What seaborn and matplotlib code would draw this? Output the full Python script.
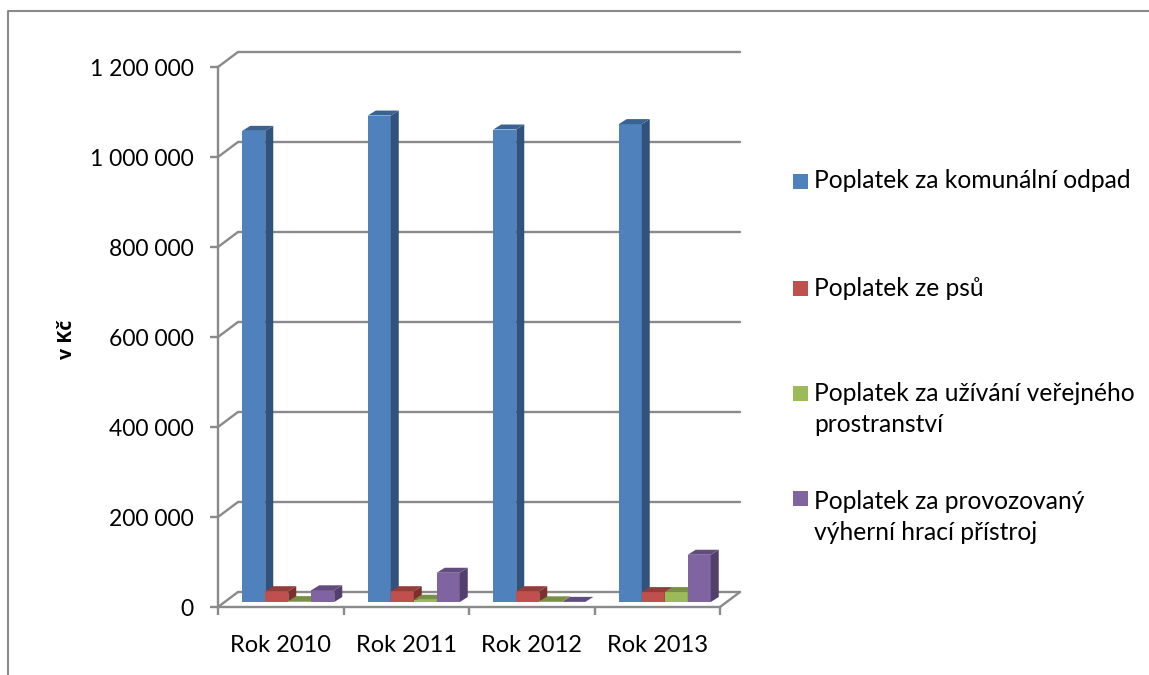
import matplotlib
matplotlib.use("Agg")
import matplotlib.pyplot as plt
from matplotlib.lines import Line2D
from matplotlib.patches import Polygon, Rectangle
import pandas as pd
import seaborn as sns

years = ["Rok 2010", "Rok 2011", "Rok 2012", "Rok 2013"]
series = [
    "Poplatek za komunální odpad",
    "Poplatek ze psů",
    "Poplatek za užívání veřejného\nprostranství",
    "Poplatek za provozovaný\nvýherní hrací přístroj",
]
odpad = [1047000, 1081000, 1050000, 1062000]
psi = [24000, 24000, 24000, 22000]
prostranstvi = [2000, 5000, 1500, 22000]
automaty = [26000, 65000, 300, 105000]
y_ticks = [0, 200000, 400000, 600000, 800000, 1000000, 1200000]
y_labels = ["0", "200 000", "400 000", "600 000", "800 000", "1 000 000", "1 200 000"]

front = ["#4F81BD", "#C0504D", "#9BBB59", "#8064A2"]
side = ["#30527C", "#7D2F2D", "#657B38", "#533F6B"]
top = ["#3A6391", "#943C3A", "#779044", "#624C7D"]
legend_text_y = [181, 288, 409, 517]
legend_box_y = [181, 288, 393, 498]

W, H = 1149, 675
GREY = "#8A8A8A"

sns.set_theme(style="white")
plt.rcParams["font.family"] = ["Lato", "DejaVu Sans"]

fig = plt.figure(figsize=(W / 100, H / 100), dpi=100)
ax = fig.add_axes([218 / W, 1 - 607 / H, 502 / W, 540 / H])

df = pd.DataFrame({
    "rok": years * 4,
    "serie": [s for s in series for _ in years],
    "hodnota": odpad + psi + prostranstvi + automaty,
})
sns.barplot(data=df, x="rok", y="hodnota", hue="serie", palette=front,
            width=0.733, gap=0, legend=False, saturation=1, linewidth=0, ax=ax)
ax.set_xlim(-0.5, 3.5)
ax.set_ylim(0, 1200000)

# pixels -> data units
px_x = 4 / 502
px_y = 1200000 / 540
wall_dx, wall_dy = 20 * px_x, 15 * px_y
bar_dx, bar_dy = 8 * px_x, 5 * px_y
shift_x, base_y = 7.5 * px_x, 5 * px_y

# back wall and floor
for v in y_ticks:
    ax.plot([-0.5, -0.5 + wall_dx], [v, v + wall_dy], color=GREY, lw=1.7, clip_on=False, zorder=1)
    ax.plot([-0.5 + wall_dx, 3.5 + wall_dx], [v + wall_dy] * 2, color=GREY, lw=1.7, clip_on=False, zorder=1)
ax.plot([3.5, 3.5 + wall_dx], [0, wall_dy], color=GREY, lw=1.7, clip_on=False, zorder=1)

# fake the 3d look on the seaborn bars
for i, p in enumerate(sorted(ax.patches, key=lambda b: b.get_x())):
    k = i % 4
    p.set_x(p.get_x() + shift_x)
    p.set_y(base_y)
    p.set_zorder(3 + i)
    p.set_clip_on(False)
    x0, x1 = p.get_x(), p.get_x() + p.get_width()
    y0, y1 = base_y, base_y + p.get_height()
    ax.add_patch(Polygon([(x1, y0), (x1 + bar_dx, y0 + bar_dy), (x1 + bar_dx, y1 + bar_dy), (x1, y1)],
                         fc=side[k], ec="none", zorder=3 + i, clip_on=False))
    ax.add_patch(Polygon([(x0, y1), (x0 + bar_dx, y1 + bar_dy), (x1 + bar_dx, y1 + bar_dy), (x1, y1)],
                         fc=top[k], ec="none", zorder=3 + i, clip_on=False))

sns.despine(ax=ax, top=True, right=True)
for name in ["left", "bottom"]:
    ax.spines[name].set_color(GREY)
    ax.spines[name].set_linewidth(1.7)
    ax.spines[name].set_zorder(2)

ax.set_yticks(y_ticks, y_labels)
ax.set_xticks([-0.5, 0.5, 1.5, 2.5, 3.5], minor=False)
ax.set_xticklabels([])
ax.set_xticks([0, 1, 2, 3], years, minor=True)
ax.tick_params(axis="x", which="major", length=6, width=1.7, color=GREY, bottom=True)
ax.tick_params(axis="x", which="minor", length=0, pad=20, labelsize=17, labelcolor="black")
ax.tick_params(axis="y", length=6, width=1.7, color=GREY, left=True, pad=11.5, labelsize=16.5, labelcolor="black")
ax.set_xlabel("")
ax.set_ylabel("")
fig.text(67 / W, 1 - 339 / H, "v Kč", rotation=90, ha="center", va="center",
         fontsize=14, fontweight="bold", color="black", family=["Open Sans", "DejaVu Sans"])

# legend by hand, the entries are not evenly spaced
for name, colour, ty, by in zip(series, front, legend_text_y, legend_box_y):
    fig.add_artist(Rectangle((793 / W, 1 - (by + 7.5) / H), 15 / W, 15 / H, fc=colour, ec="none",
                             transform=fig.transFigure))
    fig.text(814.5 / W, 1 - ty / H, name, ha="left", va="center", fontsize=17.7, color="black",
             linespacing=1.45)

# outer frame of the pasted chart
fig.add_artist(Line2D([8 / W, 8 / W, 1], [0, 1 - 11 / H, 1 - 11 / H], color=GREY, lw=1.5))

fig.savefig("out.png", dpi=100, facecolor="white")
